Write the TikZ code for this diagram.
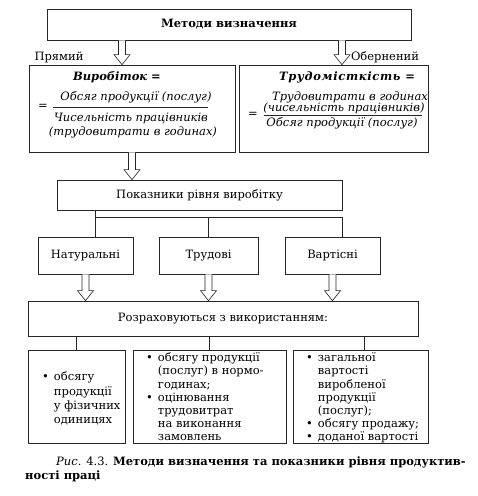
\documentclass[tikz,border=0pt]{standalone}
\usepackage{fontspec}
\setmainfont{DejaVu Serif}
\newfontfamily\spacedfont[LetterSpace=6]{DejaVu Serif}
\usetikzlibrary{calc}
\newcommand\fs{\fontsize{11.5}{13.1}\selectfont}
\newcommand\harrow[2]{\draw[arr] let \p1=(#1), \p2=(#2) in (\x1-3.5pt,\y1) -- (\x1-3.5pt,\y2+10pt) -- (\x1-8pt,\y2+10pt) -- (\x1,\y2) -- (\x1+8pt,\y2+10pt) -- (\x1+3.5pt,\y2+10pt) -- (\x1+3.5pt,\y1);}
\begin{document}
\begin{tikzpicture}[x=1pt,y=-1pt,font=\fs,
  box/.style={draw=black!85, line width=0.7pt, inner sep=0pt},
  lbl/.style={inner sep=0pt},
  conn/.style={draw=black!85, line width=0.7pt},
  arr/.style={draw=black!85, line width=0.6pt, fill=white, line join=miter}]
\useasboundingbox (0,0) rectangle (478,496);
% boxes
\node[box, minimum width=364pt, minimum height=31pt] (top) at (229,24.5) {\bfseries Методи визначення};
\node[box, minimum width=206pt, minimum height=87pt] (lf) at (132,108.5) {};
\node[box, minimum width=189pt, minimum height=87pt] (rf) at (333.5,108.5) {};
\node[box, minimum width=285pt, minimum height=30pt] (pok) at (199.5,195) {Показники рівня виробітку};
\node[box, minimum width=95pt, minimum height=37pt] (nat) at (85.5,255.5) {Натуральні};
\node[box, minimum width=99pt, minimum height=37pt] (tru) at (208.5,255.5) {Трудові};
\node[box, minimum width=95pt, minimum height=37pt] (var) at (332.5,255.5) {Вартісні};
\node[box, minimum width=390pt, minimum height=35pt] (roz) at (223,318.5) {Розраховуються з використанням:};
\node[box, minimum width=97pt, minimum height=93pt] (b1) at (76.5,396.5) {};
\node[box, minimum width=153pt, minimum height=93pt] (b2) at (209.5,396.5) {};
\node[box, minimum width=135pt, minimum height=93pt] (b3) at (360.5,396.5) {};
% side labels
\node[lbl] (pr) at (59,57) {Прямий};
\node[lbl] (ob) at (385,57) {Обернений};
% left formula
\node[lbl] (lt) at (117,77) {\bfseries\itshape Виробіток =};
\node[lbl] (leq) at (43,107) {=};
\node[lbl] (ln) at (136,97) {\itshape Обсяг продукції (послуг)};
\node[lbl] (ld1) at (131,118) {\itshape Чисельність працівників};
\node[lbl] (ld2) at (133,132) {\itshape (трудовитрати в годинах)};
\coordinate (lfa) at (53,107);
\coordinate (lfb) at (208,107);
\draw[conn] (lfa) -- (lfb);
% right formula
\node[lbl] (rt) at (347,77) {\spacedfont\bfseries\itshape Трудомісткість =};
\node[lbl] (req) at (253,115) {=};
\node[lbl] (rn1) at (350,97) {\itshape Трудовитрати в годинах};
\node[lbl] (rn2) at (344,108) {\itshape (чисельність працівників)};
\node[lbl] (rd) at (342,123) {\itshape Обсяг продукції (послуг)};
\coordinate (rfa) at (264,115);
\coordinate (rfb) at (422,115);
\draw[conn] (rfa) -- (rfb);
% arrows
\coordinate (c1) at (122,0);
\coordinate (c2) at (342,0);
\harrow{top.south -| c1}{lf.north -| c1}
\harrow{top.south -| c2}{rf.north -| c2}
\harrow{lf.south}{pok.north -| lf.south}
\harrow{nat.south}{roz.north -| nat.south}
\harrow{tru.south}{roz.north -| tru.south}
\harrow{var.south}{roz.north -| var.south}
% tree
\coordinate (t1) at (95,217);
\coordinate (t3) at (342,217);
\draw[conn] (pok.south -| t1) -- (nat.north -| t1);
\draw[conn] (t1) -- (t3);
\draw[conn] (t3 -| tru.north) -- (tru.north);
\draw[conn] (t3) -- (var.north -| t3);
% bottom connectors
\coordinate (c364) at (364,0);
\draw[conn] (roz.south -| b1.north) -- (b1.north);
\draw[conn] (roz.south -| b2.north) -- (b2.north);
\draw[conn] (roz.south -| c364) -- (b3.north -| c364);
% bottom texts
\node[lbl, anchor=west, align=left, font=\fontsize{11.5}{14.3}\selectfont] (x1) at (42,399.5) {\begin{tabular}{@{}l@{\hspace{5pt}}l@{}}•&обсягу\\&продукції\\&у фізичних\\&одиницях\end{tabular}};
\node[lbl, anchor=west, align=left] (x2) at (146,398.5) {\begin{tabular}{@{}l@{\hspace{5pt}}l@{}}•&обсягу продукції\\&(послуг) в нормо-\\&годинах;\\•&оцінювання\\&трудовитрат\\&на виконання\\&замовлень\end{tabular}};
\node[lbl, anchor=west, align=left] (x3) at (306,398.5) {\begin{tabular}{@{}l@{\hspace{5pt}}l@{}}•&загальної\\&вартості\\&виробленої\\&продукції\\&(послуг);\\•&обсягу продажу;\\•&доданої вартості\end{tabular}};
% caption
\node[lbl, anchor=west] (cap1) at (56,462) {\itshape Рис.\upshape{} 4.3. \bfseries Методи визначення та показники рівня продуктив-};
\node[lbl, anchor=west] (cap2) at (25,476) {\bfseries ності праці};
\end{tikzpicture}
\end{document}
